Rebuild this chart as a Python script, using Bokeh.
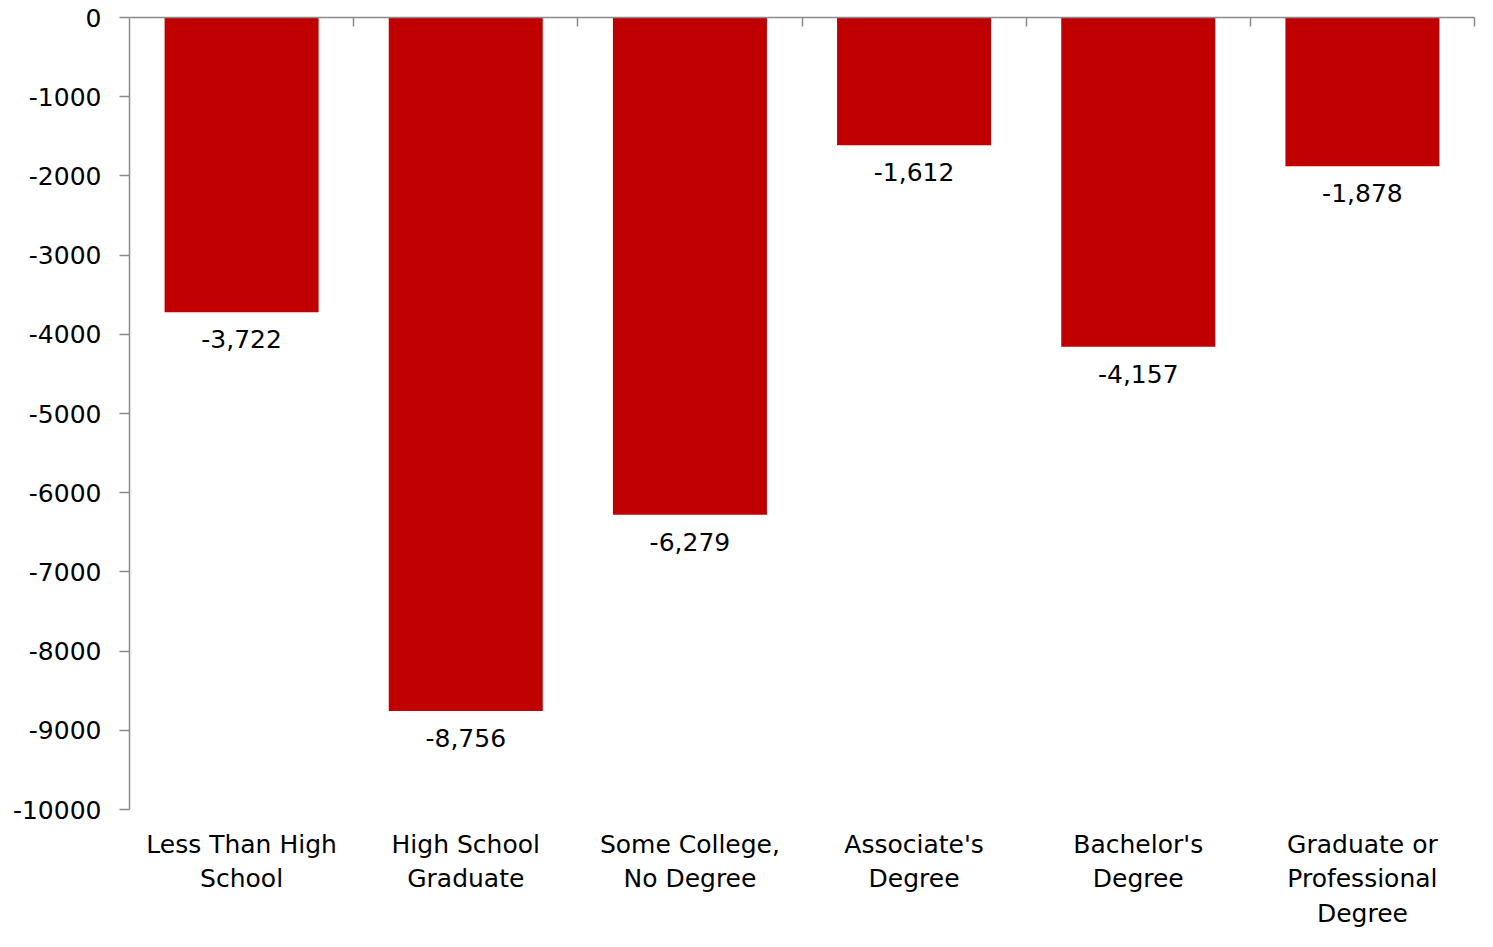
from bokeh.plotting import figure
from bokeh.models import ColumnDataSource, Range1d, FixedTicker, LinearAxis
from bokeh.core.properties import value
from bokeh.embed import file_html
from bokeh.resources import INLINE

categories = ["Less Than High\nSchool", "High School\nGraduate", "Some College,\nNo Degree",
              "Associate's\nDegree", "Bachelor's\nDegree", "Graduate or\nProfessional\nDegree"]
values = [-3722, -8756, -6279, -1612, -4157, -1878]
y_ticks = [-10000, -9000, -8000, -7000, -6000, -5000, -4000, -3000, -2000, -1000, 0]

FONT = "DejaVu Sans"
FS = "25px"
AXIS_COLOR = "#8a8a8a"

xs = [i + 0.5 for i in range(len(categories))]
labels = [f"{v:,}" for v in values]
src = ColumnDataSource(dict(x=xs, top=[0] * len(values), bottom=values, label=labels))

p = figure(width=1477, height=931, output_backend="svg", toolbar_location=None,
           x_range=Range1d(0, len(categories)), y_range=Range1d(y_ticks[0], y_ticks[-1]),
           min_border_left=129, min_border_right=3, min_border_top=17, min_border_bottom=117)
p.outline_line_color = None
p.xgrid.visible = False
p.ygrid.visible = False
p.background_fill_color = "white"
p.border_fill_color = "white"

p.vbar(x="x", top="top", bottom="bottom", width=0.687, source=src,
       fill_color="#C00000", line_color=None)

p.text(x="x", y="bottom", text="label", source=src, text_align="center", text_baseline="top",
       y_offset=18, text_font=value(FONT), text_font_size=FS, text_color="#000000")

# bottom category axis
xa = p.xaxis[0]
xa.ticker = FixedTicker(ticks=xs)
xa.major_label_overrides = {x: c for x, c in zip(xs, categories)}
xa.axis_line_color = None
xa.major_tick_line_color = None
xa.minor_tick_line_color = None
xa.major_label_standoff = 14
xa.major_label_text_font = FONT
xa.major_label_text_font_size = FS
xa.major_label_text_color = "#000000"
xa.major_label_text_align = "center"

# top axis line at zero with boundary ticks
top_axis = LinearAxis(ticker=FixedTicker(ticks=list(range(1, len(categories) + 1))))
top_axis.axis_line_color = AXIS_COLOR
top_axis.axis_line_width = 1.5
top_axis.major_tick_line_color = AXIS_COLOR
top_axis.major_tick_line_width = 1.5
top_axis.major_tick_in = 9
top_axis.major_tick_out = 0
top_axis.minor_tick_line_color = None
top_axis.major_label_text_font_size = "0px"
top_axis.major_label_text_color = None
p.add_layout(top_axis, "above")

# left value axis
ya = p.yaxis[0]
ya.ticker = FixedTicker(ticks=y_ticks)
ya.major_label_overrides = {t: str(t) for t in y_ticks}
ya.axis_line_color = AXIS_COLOR
ya.axis_line_width = 1.5
ya.major_tick_line_color = AXIS_COLOR
ya.major_tick_line_width = 1.5
ya.major_tick_out = 10
ya.major_tick_in = 0
ya.minor_tick_line_color = None
ya.major_label_standoff = 18
ya.major_label_text_font = FONT
ya.major_label_text_font_size = FS
ya.major_label_text_color = "#000000"

open("out.html", "w").write(file_html(p, INLINE))
